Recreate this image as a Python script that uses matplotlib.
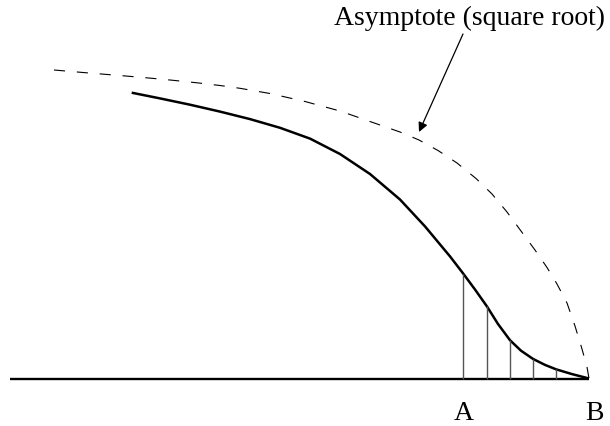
import matplotlib
matplotlib.use("Agg")
import matplotlib.pyplot as plt
import numpy as np

# picture units: x in px from left, y = height above the baseline (px)
base_y = 378.5

# dashed asymptote curve (x, y in image px)
asym_x = [54, 83, 105, 128, 152, 173, 197, 220, 240, 270, 305, 340, 370, 400, 419,
          438, 457, 476, 492, 507, 521, 535, 547, 557, 567, 575, 582, 587, 589]
asym_py = [70, 72.5, 74.3, 76.2, 78.3, 80.3, 82.8, 85.5, 88.3, 93.5, 101.5, 111, 121.5, 132, 140,
           150.5, 163, 178.5, 194, 212, 231, 250, 267.5, 284, 303, 326, 349, 367, 378.5]

# solid curve
curve_x = [131.7, 160, 190, 220, 250, 280, 310, 340, 370, 400, 425, 450, 463,
           475, 487, 498, 510, 521, 533, 545, 556, 572, 589]
curve_py = [92.7, 98.4, 104.7, 111.6, 119.1, 127.8, 138.6, 154, 174, 199.5, 226.4, 256.4, 273.3,
            289.5, 306.5, 324, 340.2, 350.7, 358.9, 364.9, 369.3, 374.1, 378.5]

# vertical strips between A and B
strip_x = [463.3, 486.7, 510, 533, 556]
strip_py = [274, 306, 340.2, 358.9, 369.3]

labels = ["A", "B"]
label_x = [464, 594]

plt.rcParams["font.family"] = ["Liberation Serif", "DejaVu Serif"]
plt.rcParams["lines.scale_dashes"] = False

fig = plt.figure(figsize=(6.10, 4.26), dpi=100)
ax = fig.add_axes([0, 0, 1, 1])
ax.set_xlim(0, 610)
ax.set_ylim(base_y - 426, base_y)
ax.axis("off")

h = lambda v: base_y - np.asarray(v, dtype=float)

ax.plot([10, 589], [0, 0], color="black", lw=1.7, solid_capstyle="butt")
ax.plot(curve_x, h(curve_py), color="black", lw=1.8, solid_capstyle="butt",
        solid_joinstyle="round")
ax.plot(asym_x, h(asym_py), color="black", lw=0.8, dashes=(8, 8.5))
ax.vlines(strip_x, 0, h(strip_py), color="#555555", lw=1.0)

for lab, lx in zip(labels, label_x):
    ax.text(lx, h(420), lab, fontsize=20, ha="center", va="baseline")

ax.text(470, h(25), "Asymptote (square root)", fontsize=20, ha="center", va="baseline")
ax.annotate("", xy=(419, h(132)), xytext=(463, h(34)),
            arrowprops=dict(arrowstyle="-|>", color="black", lw=0.9,
                            mutation_scale=14, shrinkA=0, shrinkB=0))

fig.savefig("out.png", dpi=100)
